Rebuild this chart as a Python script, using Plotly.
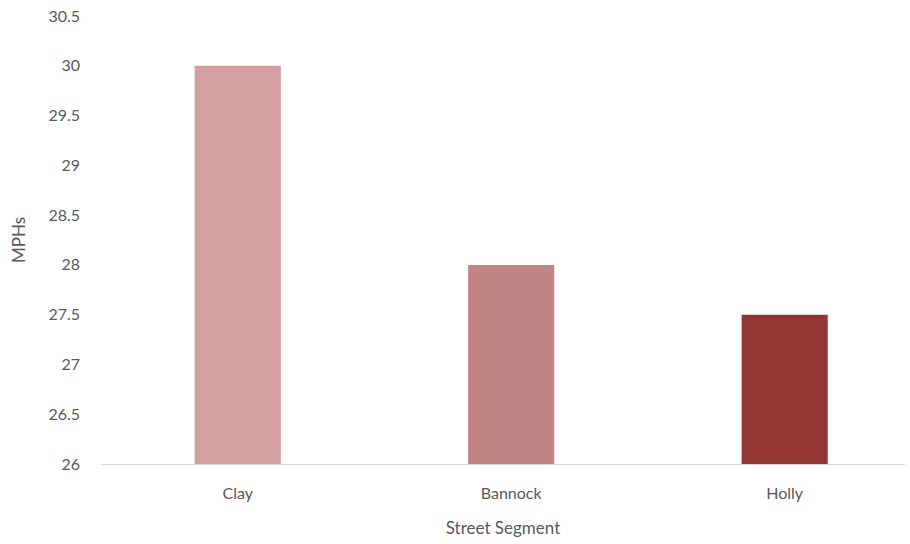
import plotly.graph_objects as go

segments = ["Clay", "Bannock", "Holly"]
mph = [30, 28, 27.5]
bar_colors = ["#d4a09f", "#c08482", "#943634"]
y_ticks = [26, 26.5, 27, 27.5, 28, 28.5, 29, 29.5, 30, 30.5]

font_family = "Lato, Open Sans, sans-serif"
grey = "#595959"

fig = go.Figure(
    go.Bar(
        x=segments,
        y=[v - 26 for v in mph],
        base=26,
        marker=dict(color=bar_colors, line=dict(width=0)),
        width=0.315,
        hoverinfo="skip",
    )
)

fig.update_layout(
    width=910,
    height=544,
    margin=dict(l=101, r=5, t=16, b=80),
    paper_bgcolor="white",
    plot_bgcolor="white",
    showlegend=False,
    font=dict(family=font_family, color=grey, size=16),
)

fig.update_xaxes(
    range=[-0.5, 2.44],
    showgrid=False,
    showline=True,
    linecolor="#d9d9d9",
    linewidth=1,
    ticks="",
    ticklabelstandoff=15,
    tickfont=dict(size=16, color=grey),
    title=dict(text="Street Segment", font=dict(size=17, color=grey), standoff=20),
)

fig.update_yaxes(
    range=[26, 30.5],
    tickvals=y_ticks,
    ticktext=[f"{t:g}" for t in y_ticks],
    showgrid=False,
    zeroline=False,
    showline=False,
    ticks="",
    ticklabelstandoff=20,
    tickfont=dict(size=16, color=grey),
    title=dict(text="MPHs", font=dict(size=17, color=grey), standoff=18),
)

fig.write_html("out.html")
